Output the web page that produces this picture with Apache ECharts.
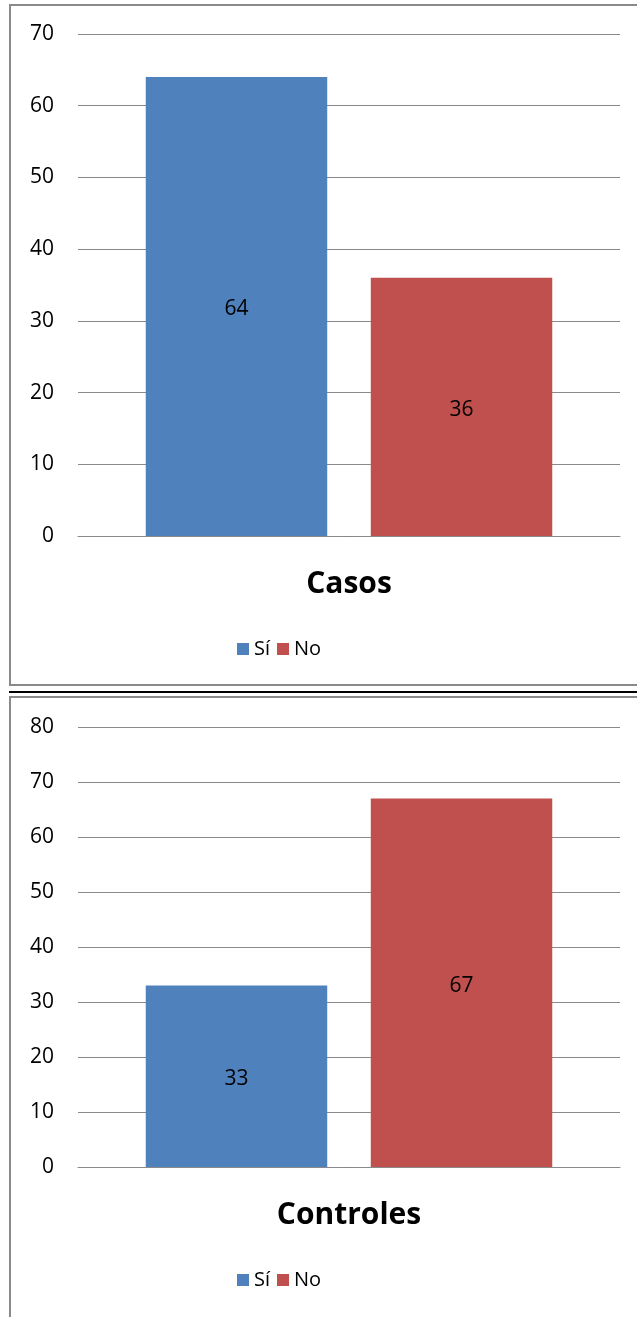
<!DOCTYPE html>
<html>
<head>
<meta charset="utf-8">
<script src="https://cdn.jsdelivr.net/npm/echarts@6/dist/echarts.min.js"></script>
<style>
  html, body { margin: 0; padding: 0; background: #fff; }
  body { width: 637px; height: 1317px; position: relative; overflow: hidden; }
  .frame { position: absolute; border: 2px solid #8a8a8a; box-sizing: border-box; }
  #frame1 { left: 9px; top: 4px; width: 640px; height: 682px; }
  #frame2 { left: 9px; top: 696px; width: 640px; height: 640px; }
  #sep { position: absolute; left: 9px; top: 691px; width: 640px; height: 2px; background: #000; }
  #chart { position: absolute; left: 0; top: 0; width: 637px; height: 1317px; }
</style>
</head>
<body>
<div class="frame" id="frame1"></div>
<div id="sep"></div>
<div class="frame" id="frame2"></div>
<div id="chart"></div>
<script>
// datos
var seriesNames = ['Sí', 'No'];
var casosCategory = ['Casos'];
var controlesCategory = ['Controles'];
var casosValues = [64, 36];      // Sí, No
var controlesValues = [33, 67];  // Sí, No
var casosMax = 70;
var controlesMax = 80;

var colors = ['#4F81BD', '#C0504D'];
var font = 'Open Sans';

var chart = echarts.init(document.getElementById('chart'));

function yAxis(idx, max) {
    return {
        type: 'value',
        gridIndex: idx,
        min: 0,
        max: max,
        interval: 10,
        axisLine: { show: false },
        axisTick: { show: false },
        axisLabel: { color: '#000', fontSize: 21, fontFamily: font, margin: 24 },
        splitLine: { lineStyle: { color: '#8a8a8a', width: 1 } }
    };
}

function xAxis(idx, cats) {
    return {
        type: 'category',
        gridIndex: idx,
        data: cats,
        axisLine: { lineStyle: { color: '#8a8a8a', width: 1 } },
        axisTick: { show: false },
        axisLabel: { color: '#000', fontSize: 30, fontWeight: 'bold', fontFamily: font, margin: 33 }
    };
}

function barSeries(idx, values) {
    return seriesNames.map(function (name, i) {
        return {
            name: name,
            type: 'bar',
            xAxisIndex: idx,
            yAxisIndex: idx,
            data: [values[i]],
            barGap: '24%',
            barCategoryGap: '25%',
            itemStyle: { color: colors[i] },
            label: {
                show: true,
                position: 'inside',
                offset: [0, 3],
                color: '#000',
                fontSize: 21,
                fontFamily: font
            }
        };
    });
}

function legend(top) {
    return {
        data: seriesNames,
        left: 232,
        top: top,
        itemWidth: 12,
        itemHeight: 12,
        itemGap: 7,
        icon: 'rect',
        selectedMode: false,
        textStyle: { color: '#000', fontSize: 20, fontFamily: font }
    };
}

chart.setOption({
    animation: false,
    color: colors,
    grid: [
        { left: 78, top: 34, width: 542, height: 502 },
        { left: 78, top: 727, width: 542, height: 440 }
    ],
    legend: [legend(634), legend(1265)],
    xAxis: [xAxis(0, casosCategory), xAxis(1, controlesCategory)],
    yAxis: [yAxis(0, casosMax), yAxis(1, controlesMax)],
    series: barSeries(0, casosValues).concat(barSeries(1, controlesValues))
});
</script>
</body>
</html>
